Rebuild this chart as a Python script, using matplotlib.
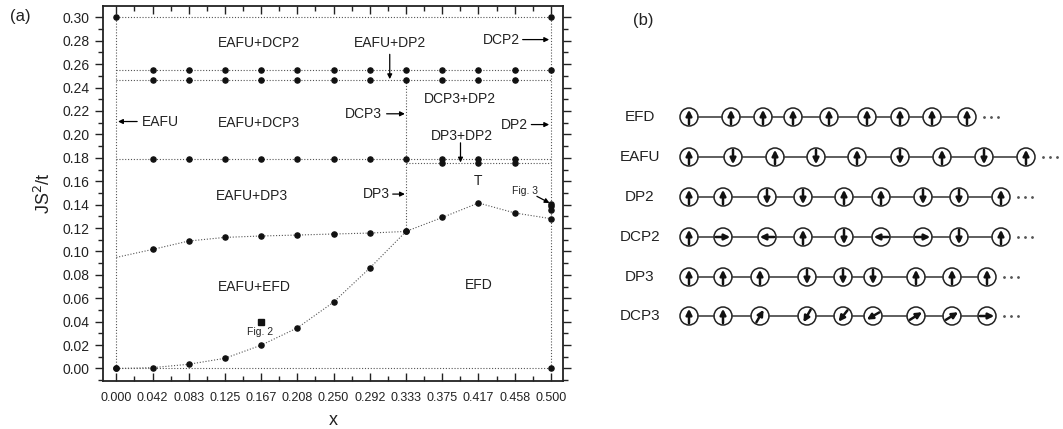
import numpy as np
import matplotlib
matplotlib.use("Agg")
import matplotlib.pyplot as plt
from matplotlib.patches import Circle
from matplotlib.ticker import AutoMinorLocator

plt.rcParams['font.family'] = ['Liberation Sans', 'DejaVu Sans']

# ---------------- data: panel (a) ----------------
x_vals = [0/24, 1/24, 2/24, 3/24, 4/24, 5/24, 6/24, 7/24, 8/24, 9/24, 10/24, 11/24, 12/24]
x_tick_labels = ['0.000', '0.042', '0.083', '0.125', '0.167', '0.208', '0.250',
                 '0.292', '0.333', '0.375', '0.417', '0.458', '0.500']
y_ticks = [0.00, 0.02, 0.04, 0.06, 0.08, 0.10, 0.12, 0.14, 0.16, 0.18, 0.20,
           0.22, 0.24, 0.26, 0.28, 0.30]
y_tick_labels = ['0.00', '0.02', '0.04', '0.06', '0.08', '0.10', '0.12', '0.14',
                 '0.16', '0.18', '0.20', '0.22', '0.24', '0.26', '0.28', '0.30']

# EFD lower boundary (all x)
efd_boundary = [0.000, 0.0007, 0.0036, 0.0087, 0.0199, 0.0347, 0.0567, 0.0858,
                0.1171, 0.1290, 0.1414, 0.1329, 0.1280]
# EAFU+DP3 / EAFU+EFD boundary (x = 0 .. 1/3); first value has no dot
dp3_boundary = [0.0949, 0.1017, 0.1089, 0.1120, 0.1132, 0.1140, 0.1149, 0.1157, 0.1171]
# horizontal boundaries
y_dcp2 = 0.2553
y_eafu_dp2 = 0.2467
y_dcp3 = 0.1794
y_dp3_dp2 = 0.1757
y_top = 0.30
# extra points at x = 0.5 (Fig. 3)
fig3_y = [0.1408, 0.1385, 0.1357]
fig2_point = (4/24, 0.0396)

# ---------------- data: panel (b) ----------------
chain_names = ['EFD', 'EAFU', 'DP2', 'DCP2', 'DP3', 'DCP3']
chain_sites = [
    [689, 731, 763, 793, 829, 867, 900, 932, 967],
    [689, 733, 775, 816, 857, 900, 942, 984, 1026],
    [689, 723, 767, 803, 844, 881, 923, 959, 1001],
    [689, 723, 767, 803, 844, 881, 923, 959, 1001],
    [689, 723, 760, 807, 843, 873, 916, 952, 987],
    [689, 723, 760, 807, 843, 873, 916, 952, 987],
]
chain_angles = [
    [90, 90, 90, 90, 90, 90, 90, 90, 90],
    [90, 270, 90, 270, 90, 270, 90, 270, 90],
    [90, 90, 270, 270, 90, 90, 270, 270, 90],
    [90, 0, 180, 90, 270, 180, 0, 270, 90],
    [90, 90, 90, 270, 270, 270, 90, 90, 90],
    [90, 90, 60, 240, 232, 210, 32, 32, 0],
]

W, H = 1063, 429
fig = plt.figure(figsize=(W / 100, H / 100), dpi=100)

# ---------------- panel (a) ----------------
ax = fig.add_axes([103 / W, 1 - 381 / H, (563.5 - 103) / W, (381 - 6) / H])
ax.set_xlim(-0.0153, 0.5145)
ax.set_ylim(-0.0107, 0.3097)

dot_kw = dict(color='#555555', lw=0.8, linestyle=(0, (1, 1.6)))
mk_kw = dict(marker='o', ms=3.7, color='#111111', linestyle='none')

# boundary lines
ax.plot([x_vals[0], x_vals[-1]], [y_top, y_top], **dot_kw)
ax.plot([x_vals[0], x_vals[-1]], [0, 0], **dot_kw)
ax.plot([x_vals[0], x_vals[0]], [0, y_top], **dot_kw)
ax.plot([x_vals[-1], x_vals[-1]], [0, y_top], **dot_kw)
ax.plot([x_vals[0], x_vals[-1]], [y_dcp2, y_dcp2], **dot_kw)
ax.plot([x_vals[0], x_vals[-1]], [y_eafu_dp2, y_eafu_dp2], **dot_kw)
ax.plot([x_vals[0], x_vals[-1]], [y_dcp3, y_dcp3], **dot_kw)
ax.plot([x_vals[8], x_vals[-1]], [y_dp3_dp2, y_dp3_dp2], **dot_kw)
ax.plot([x_vals[8], x_vals[8]], [efd_boundary[8], y_eafu_dp2], **dot_kw)
ax.plot(x_vals, efd_boundary, **dot_kw)
ax.plot(x_vals[:9], dp3_boundary, **dot_kw)

# markers
ax.plot([x_vals[0], x_vals[-1], x_vals[0], x_vals[-1]], [y_top, y_top, 0, 0], **mk_kw)
ax.plot(x_vals[1:], [y_dcp2] * 12, **mk_kw)
ax.plot(x_vals[1:12], [y_eafu_dp2] * 11, **mk_kw)
ax.plot(x_vals[1:12], [y_dcp3] * 11, **mk_kw)
ax.plot(x_vals[9:12], [y_dp3_dp2] * 3, **mk_kw)
ax.plot(x_vals, efd_boundary, **mk_kw)
ax.plot(x_vals[1:9], dp3_boundary[1:], **mk_kw)
ax.plot([x_vals[-1]] * 3, fig3_y, **mk_kw)
ax.plot([fig2_point[0]], [fig2_point[1]], marker='s', ms=3.8, color='#111111', linestyle='none')

# region labels
tfs = 10
tc = '#222222'
ax.text(0.1645, 0.2784, 'EAFU+DCP2', ha='center', va='center', fontsize=tfs, color=tc)
ax.text(0.1645, 0.2099, 'EAFU+DCP3', ha='center', va='center', fontsize=tfs, color=tc)
ax.text(0.1560, 0.1470, 'EAFU+DP3', ha='center', va='center', fontsize=tfs, color=tc)
ax.text(0.1585, 0.0695, 'EAFU+EFD', ha='center', va='center', fontsize=tfs, color=tc)
ax.text(0.3956, 0.2299, 'DCP3+DP2', ha='center', va='center', fontsize=tfs, color=tc)
ax.text(0.4170, 0.0709, 'EFD', ha='center', va='center', fontsize=tfs, color=tc)
ax.text(0.4166, 0.1605, 'T', ha='center', va='center', fontsize=tfs, color=tc)
ax.text(0.1658, 0.0310, 'Fig. 2', ha='center', va='center', fontsize=7.5, color=tc)
ax.text(0.4700, 0.1514, 'Fig. 3', ha='center', va='center', fontsize=7.5, color=tc)

arr = dict(arrowstyle='-|>', color='black', lw=0.9, mutation_scale=7, shrinkA=0, shrinkB=0)

def label_arrow(text, txy, tail, tip, ha, fs=tfs):
    ax.text(txy[0], txy[1], text, ha=ha, va='center', fontsize=fs, color=tc)
    ax.annotate('', xy=tip, xytext=tail, arrowprops=arr)

label_arrow('EAFU', (0.0295, 0.2110), (0.0240, 0.2110), (0.0020, 0.2110), 'left')
label_arrow('DCP2', (0.4646, 0.2810), (0.4675, 0.2810), (0.4980, 0.2810), 'right')
label_arrow('DCP3', (0.3058, 0.2176), (0.3110, 0.2176), (0.3320, 0.2176), 'right')
label_arrow('DP2', (0.4739, 0.2084), (0.4775, 0.2084), (0.4980, 0.2084), 'right')
label_arrow('DP3', (0.3149, 0.1490), (0.3180, 0.1490), (0.3320, 0.1490), 'right')
label_arrow('EAFU+DP2', (0.3145, 0.2784), (0.3146, 0.2684), (0.3146, 0.2472), 'center')
label_arrow('DP3+DP2', (0.3980, 0.1985), (0.3960, 0.1928), (0.3960, 0.1760), 'center')
ax.annotate('', xy=(0.4984, 0.1414), xytext=(0.4839, 0.1471), arrowprops=arr)

# ticks
ax.set_xticks(x_vals)
ax.set_xticklabels(x_tick_labels, fontsize=9)
ax.set_yticks(y_ticks)
ax.set_yticklabels(y_tick_labels, fontsize=10)
ax.xaxis.set_minor_locator(AutoMinorLocator(2))
ax.yaxis.set_minor_locator(AutoMinorLocator(2))
ax.tick_params(axis='x', which='both', direction='in', top=True, bottom=True, colors='#222222')
ax.tick_params(axis='y', which='both', direction='out', left=True, right=True, colors='#222222')
ax.tick_params(which='major', length=6, width=1.0)
ax.tick_params(which='minor', length=3.5, width=1.0)
ax.tick_params(axis='x', pad=8)
for s in ax.spines.values():
    s.set_linewidth(1.3)
    s.set_color('#222222')
ax.set_xlabel('x', fontsize=13, labelpad=6, color=tc)
ax.set_ylabel(r'JS$^2$/t', fontsize=13, labelpad=6, color=tc)

fig.text(20 / W, 1 - 17 / H, '(a)', ha='center', va='center', fontsize=12, color=tc)
fig.text(643 / W, 1 - 20 / H, '(b)', ha='center', va='center', fontsize=12, color=tc)

# ---------------- panel (b) ----------------
x0 = 595
bx = fig.add_axes([x0 / W, 0, (W - x0) / W, 1])
bx.set_xlim(x0, W)
bx.set_ylim(H, 0)
bx.axis('off')

row_y = [117, 157, 197, 237, 277, 316]
r = 9.0
alen = 7.2
for name, sites, angs, cy in zip(chain_names, chain_sites, chain_angles, row_y):
    bx.text(640, cy, name, ha='center', va='center', fontsize=11, color='#222222')
    for a, b in zip(sites[:-1], sites[1:]):
        bx.plot([a + r, b - r], [cy, cy], color='#333333', lw=1.1)
    for cx, ang in zip(sites, angs):
        bx.add_patch(Circle((cx, cy), r, facecolor='white', edgecolor='#222222', lw=1.1))
        dx = alen * np.cos(np.radians(ang))
        dy = -alen * np.sin(np.radians(ang))
        bx.annotate('', xy=(cx + dx, cy + dy), xytext=(cx - dx, cy - dy),
                    arrowprops=dict(arrowstyle='-|>', color='#111111', lw=1.8,
                                    mutation_scale=8.5, shrinkA=0, shrinkB=0))
    last = sites[-1]
    bx.plot([last + 17, last + 24, last + 31], [cy, cy, cy], linestyle='none',
            marker='o', ms=1.0, color='#555555')

fig.savefig('out.png', dpi=100)
